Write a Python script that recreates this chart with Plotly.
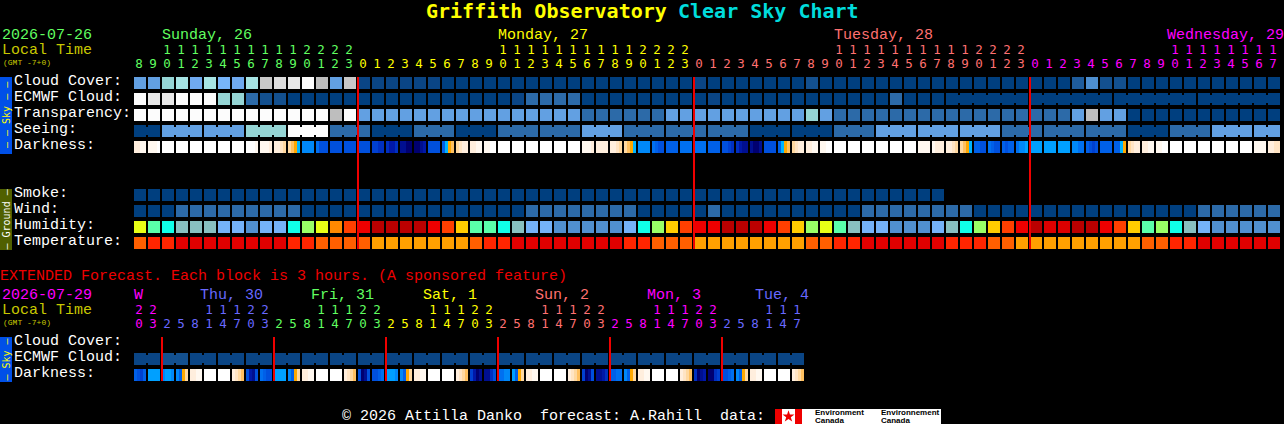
import plotly.graph_objects as go

# ---------- data: forecast levels per hourly column ----------
cloud_cover = [6,6,9,10,7,10,8,7,10,12,13,14,15,11,6,12,
               1,1,1,1,1,1,
               0,0,0,0,0,0,0,0,0,0,0,0,0,0,0,0,0,0,
               1,
               0,0,0,0,0,0,0,
               2,
               0,0,0,0,0,0,0,0,0,0,0,0,0,0,0,0,0,0,
               3,5,2,2,
               0,0,0,0,0,0,0,0,0,0,0]
ecmwf_cloud = [15,14,14,15,15,15,9,9,4,2,2,
               0,0,0,0,0,0,0,0,0,0,0,0,0,0,0,0,
               1,4,4,4,4,
               0,0,0,0,0,0,0,0,0,
               1,
               0,0,0,0,0,0,0,0,0,0,0,0,
               4,
               0,0,0,0,0,0,0,0,0,0,0,0,0,0,0,0,0,0,0,0,0,0,0,0,0,0,0]
ecmwf_groups = [1]*58 + [6,6,6,6]
transparency = [15,15,15,15,15,15,15,15,15,15,15,15,15,15,11,15,
                6,6,6,6,6,6,6,6,6,6,6,6,6,6,6,6,
                4,4,4,4,4,4,
                6,6,6,6,6,6,6,6,6,6,
                9,6,
                4,4,4,4,4,4,4,4,4,4,4,4,4,4,4,4,4,
                6,11,6,6,
                0,0,0,0,0,0,0,0,0,0,0]
seeing = [0,0, 6,6,6, 6,6,6, 9,9,9, 15,15,15, 4,4,4, 0,0,0, 4,4,4, 0,0,0,
          4,4,4, 4,4,4, 6,6,6, 4,4,4, 4,4,4, 4,4,4, 0,0,0, 0,0,0, 4,4,4,
          6,6,6, 6,6,6, 6,6,6, 4,4,4, 4,4,4, 4,4,4, 0,0,0, 4,4,4, 6,6,6, 6,6]
seeing_groups = [2]+[3]*26+[2]
smoke = [0,0,0,0,0,0,0,0,0,0,0,0,0,0,0,0,0,0,0,0,0,0,0,0,0,0,0,0,0,
         0,0,0,0,0,0,0,0,0,0,0,0,0,0,0,0,0,0,0,0,0,0,0,0,0,0,0,0,0]
wind = [0,0,0, 4,4,4,4,4,4,4,4,4,
        0,0,0,0,0,0,0,0,0,0,0,0,0,0,0,0,
        4,4,4,4,4,4,4,4,
        0,0,0,0,0, 4,
        0,0,0,0,0,0,0,0,0,0,
        4,4,4,4,4,4,4,4,
        0,0,0,0,0,0,0,0,0,0,0,0,0,0,0,0,
        4,4,4,4,4,4]
humidity = [60,50,45,35,35,35,30,30,20,30,30,45,55,60,70,75,80,90,90,90,90,80,75,65,50,50,45,35,
            30,30,20,20,20,20,20,30,45,55,65,75,80,80,90,90,90,80,75,65,55,60,50,35,
            30,30,20,20,20,30,35,45,55,65,75,80,90,85,85,90,90,80,75,65,50,55,45,35,30,20,20,20,20,20]
temperature = [26,28,28,30,30,30,30,30,30,30,30,28,28,26,26,26,26,24,24,24,24,24,24,24,
               26,28,28,30,30,30,30,30,30,30,30,28,28,26,26,26,24,24,24,24,24,24,24,24,
               26,26,28,28,30,30,30,30,30,30,28,28,28,26,26,24,24,24,24,24,24,24,24,24,
               26,26,28,28,30,30,30,30,30,30]
darkness = ("bbaa aaaW WWWW WWWW WWWW WWWW WWWW WWWW WWWa aaab bbcd defg iiii jlll llll llll "
            "llll mmnn noon ppqq qqpo llll kgfe dcbb bbaa aaWW WWWW WWWW WWWW WWWW WWWW WWWW "
            "aaab bbbb bbcd defg iiii jkll kkkk jjjj jjjj kkkk llmn nopp pqqp llll kgfe dcbb "
            "bbaa aaWW WWWW WWWW WWWW WWWW WWWW WWWW aaaa abbb bbcd defg kkll jkll klkk jiih "
            "hhhh hhhh hhhh iijj klml kkkk kkgf dcbb bbaa aaWW WWWW WWWW WWWW WWWW WWWW WWWW "
            "aaaa bbcc").split()
main_hours = [8,9,10,11,12,13,14,15,16,17,18,19,20,21,22,23,
              0,1,2,3,4,5,6,7,8,9,10,11,12,13,14,15,16,17,18,19,20,21,22,23,
              0,1,2,3,4,5,6,7,8,9,10,11,12,13,14,15,16,17,18,19,20,21,22,23,
              0,1,2,3,4,5,6,7,8,9,10,11,12,13,14,15,16,17]
main_day_names = ["Sunday, 26", "Monday, 27", "Tuesday, 28", "Wednesday, 29"]

ext_ecmwf = [1,1,2,2,1,1,1,1,1,1,1,1,1,1,1,1,1,1,1,1,1,1,1,1,
             1,1,1,1,1,1,1,1,1,1,1,1,1,1,1,1,1,1,1,1,1,1,1,1]
ext_groups = [2]*24
ext_darkness = ("klmk hhhh ihhi ikfd bbaa WWWW WWWW bcde lopl jkll hhhh ikfd bbaa WWWW WWWW bcde "
                "lqpl llkj hhhi ikfd bbaa WWWW WWWW bcde moqp ppnl jjii hkfd bbaa WWWW WWWW bcde "
                "mqpl ppon kkjj ikfd bbaa WWWW WWWW bcde nqpo qqnm llkj ikfd bbaa WWWW WWWW bcde").split()
ext_hours = [20,23, 2,5,8,11,14,17,20,23, 2,5,8,11,14,17,20,23, 2,5,8,11,14,17,20,23,
             2,5,8,11,14,17,20,23, 2,5,8,11,14,17,20,23, 2,5,8,11,14,17]
ext_day_names = ["W", "Thu, 30", "Fri, 31", "Sat, 1", "Sun, 2", "Mon, 3", "Tue, 4"]

# ---------- colour keys ----------
LEVEL = {0:"#003f7f",1:"#0a4585",2:"#13508f",3:"#1f5c9c",4:"#2c6aa8",5:"#4e8fd0",6:"#62a0e2",
         7:"#70aaf0",8:"#77b5fa",9:"#95d5d5",10:"#a6e4e4",11:"#bebebe",12:"#c8c8c8",
         13:"#dcdcdc",14:"#e8e8e8",15:"#fcfcfc"}
HUM = {20:"#5090d0",30:"#74b2f8",35:"#88c0c0",45:"#10ffe8",50:"#5affaa",55:"#99ff66",60:"#e8ff16",
       65:"#ffcc00",70:"#ff8800",75:"#ff3f00",80:"#ee0000",85:"#dd0000",90:"#bb0000"}
TEMP = {24:"#ffa000",26:"#ff5f00",28:"#ff2500",30:"#e00000"}
DARK = {"W":"#ffffff","a":"#fff8f0","b":"#ffeedd","c":"#ffe4c4","d":"#ffd8a0","e":"#ffc060","f":"#ffa800",
        "g":"#00b4ff","h":"#00a0ff","i":"#0088f8","j":"#0070f0","k":"#0060e8","l":"#0050dd","m":"#0040d0",
        "n":"#0030c0","o":"#0018a8","p":"#000f90","q":"#000070"}
GREEN,YELLOW,SALMON,MAGENTA,PERI = "#60ff60","#ffff00","#ff7070","#ff00ff","#6868ff"
MAIN_DAY_COL = [GREEN,YELLOW,SALMON,MAGENTA]
EXT_DAY_COL = [MAGENTA,PERI,GREEN,YELLOW,SALMON,MAGENTA,PERI]

# ---------- geometry ----------
X0, PITCH, BLOCK = 134, 14, 12
MONO = "Liberation Mono"
DIGIT = "DejaVu Sans Mono"
fig = go.Figure()

def left(c): return X0 + PITCH*c

def bars(xs, top, h, w, colors):
    fig.add_trace(go.Bar(x=xs, y=[h]*len(xs), base=[top]*len(xs), width=[w]*len(xs),
                         marker=dict(color=colors, line=dict(width=0), opacity=1),
                         hoverinfo="skip"))

def row(values, key, top):
    bars([left(c)+BLOCK/2 for c in range(len(values))], top, BLOCK, BLOCK, [key[v] for v in values])

def connectors(values, groups, key, top):
    xs, cs, c = [], [], 0
    for g in groups:
        for i in range(c, c+g-1):
            xs.append(left(i)+BLOCK+1); cs.append(key[values[i]])
        c += g
    if xs: bars(xs, top+2, 8, 2, cs)

def dark_row(values, top):
    xs, cs = [], []
    for c, s in enumerate(values):
        for i, ch in enumerate(s):
            xs.append(left(c)+3*i+1.5); cs.append(DARK[ch])
    bars(xs, top, BLOCK, 3, cs)

row(cloud_cover, LEVEL, 77)
row(ecmwf_cloud, LEVEL, 93); connectors(ecmwf_cloud, ecmwf_groups, LEVEL, 93)
row(transparency, LEVEL, 109)
row(seeing, LEVEL, 125); connectors(seeing, seeing_groups, LEVEL, 125)
dark_row(darkness, 141)
row(smoke, LEVEL, 189)
row(wind, LEVEL, 205)
row(humidity, HUM, 221)
row(temperature, TEMP, 237)
row(ext_ecmwf, LEVEL, 353); connectors(ext_ecmwf, ext_groups, LEVEL, 353)
dark_row(ext_darkness, 369)

def midnight_lines(cols, top, h):
    bars([left(c) for c in cols], top, h, 2, ["#f00000"]*len(cols))
midnight_lines([c for c in range(1, len(main_hours)) if main_hours[c] < main_hours[c-1]], 77, 172)
midnight_lines([c for c in range(1, len(ext_hours)) if ext_hours[c] < ext_hours[c-1]], 337, 44)

def hour_text(hours, palette, y_tens, y_ones):
    day, cols = 0, []
    for c, h in enumerate(hours):
        if c and h < hours[c-1]: day += 1
        cols.append(palette[day])
    xs = [left(c)+5 for c in range(len(hours))]
    fig.add_trace(go.Scatter(x=xs, y=[y_ones]*len(hours), mode="text", text=[str(h%10) for h in hours],
                             textposition="middle center", hoverinfo="skip",
                             textfont=dict(family=DIGIT, size=12.5, color=cols)))
    t = [c for c, h in enumerate(hours) if h >= 10]
    fig.add_trace(go.Scatter(x=[xs[c] for c in t], y=[y_tens]*len(t), mode="text",
                             text=[str(hours[c]//10) for c in t], textposition="middle center",
                             hoverinfo="skip", textfont=dict(family=DIGIT, size=12.5, color=[cols[c] for c in t])))
hour_text(main_hours, MAIN_DAY_COL, 50.5, 65)
hour_text(ext_hours, EXT_DAY_COL, 310.5, 325)

# logo
fig.add_trace(go.Scatter(x=[788.5], y=[416.5], mode="markers", hoverinfo="skip",
                         marker=dict(symbol="star", size=9, color="#ee0000", line=dict(width=0))))

ann = []
def label(x, y, text, color="#ffffff", size=15, family=MONO, anchor="left", angle=0):
    ann.append(dict(x=x, y=y, xref="x", yref="y", text=text, showarrow=False, xanchor=anchor, yanchor="middle",
                    borderpad=0, borderwidth=0, textangle=angle, align="left",
                    font=dict(family=family, size=size, color=color)))

label(426, 11, "<b>Griffith Observatory</b>", "#ffff00", 20, "DejaVu Sans Mono")
label(678, 11, "<b>Clear Sky Chart</b>", "#00dcdc", 20, "DejaVu Sans Mono")
label(2, 35, "2026-07-26", GREEN)
label(2, 50, "Local Time", "#c8c800")
label(3, 62, "(GMT -7+0)", "#c8c800", 8)
for x, name, col in zip([162, 498, 834, 1167], main_day_names, MAIN_DAY_COL):
    label(x, 35, name, col)
for y, t in zip([81, 97, 113, 129, 145], ["Cloud Cover:", "ECMWF Cloud:", "Transparency:", "Seeing:", "Darkness:"]):
    label(14, y, t)
for y, t in zip([193, 209, 225, 241], ["Smoke:", "Wind:", "Humidity:", "Temperature:"]):
    label(14, y, t)
label(0, 276, "EXTENDED Forecast. Each block is 3 hours. (A sponsored feature)", "#ee0000")
label(2, 295, "2026-07-29", MAGENTA)
label(2, 310, "Local Time", "#c8c800")
label(3, 322, "(GMT -7+0)", "#c8c800", 8)
for x, name, col in zip([134, 200, 311, 423, 535, 647, 755], ext_day_names, EXT_DAY_COL):
    label(x, 295, name, col)
for y, t in zip([341, 357, 373], ["Cloud Cover:", "ECMWF Cloud:", "Darkness:"]):
    label(14, y, t)
label(342, 416, "\u00a9 2026 Attilla Danko  forecast: A.Rahill  data:")
label(815, 412.5, "<b>Environment</b>", "#000000", 8, "Liberation Sans")
label(815, 420.5, "<b>Canada</b>", "#000000", 8, "Liberation Sans")
label(881, 412.5, "<b>Environnement</b>", "#000000", 8, "Liberation Sans")
label(881, 420.5, "<b>Canada</b>", "#000000", 8, "Liberation Sans")
label(6, 115, "\u2013 \u2013 Sky \u2013 \u2013", "#ffff00", 10, "DejaVu Sans Mono", anchor="center", angle=-90)
label(6, 219.5, "\u2013 Ground \u2013", "#ffffff", 10, "DejaVu Sans Mono", anchor="center", angle=-90)
label(6, 359.5, "\u2013 Sky \u2013", "#ffff00", 10, "DejaVu Sans Mono", anchor="center", angle=-90)

def rect(x0, y0, x1, y1, color):
    return dict(type="rect", xref="x", yref="y", x0=x0, y0=y0, x1=x1, y1=y1,
                fillcolor=color, line=dict(width=0), layer="below")
shapes = [rect(0, 77, 12, 154, "#0050e8"), rect(0, 189, 12, 250, "#506000"), rect(0, 337, 12, 382, "#0050e8"),
          rect(775, 409, 941, 424, "#ffffff"), rect(775, 409, 782, 424, "#ee0000"), rect(795, 409, 802, 424, "#ee0000")]

fig.update_layout(width=1284, height=424, margin=dict(l=0, r=0, t=0, b=0), autosize=False,
                  paper_bgcolor="#000000", plot_bgcolor="#000000", showlegend=False,
                  barmode="overlay", bargap=0, annotations=ann, shapes=shapes,
                  xaxis=dict(range=[0, 1284], visible=False, fixedrange=True),
                  yaxis=dict(range=[424, 0], visible=False, fixedrange=True))
fig.write_html("out.html", config=dict(displayModeBar=False, staticPlot=True),
               post_script="document.body.style.margin='0';document.body.style.background='#000';document.body.style.overflow='hidden';")
